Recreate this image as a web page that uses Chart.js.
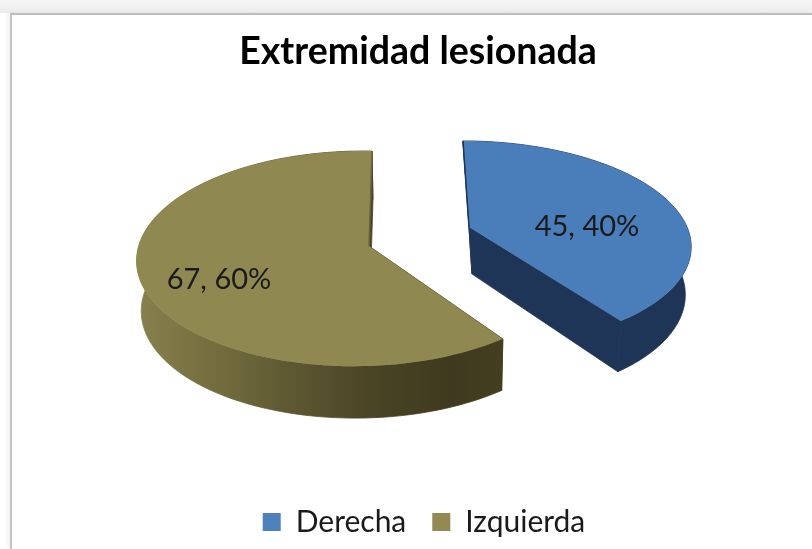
<!DOCTYPE html>
<html>
<head>
<meta charset="utf-8">
<title>Extremidad lesionada</title>
<script src="https://cdn.jsdelivr.net/npm/chart.js@4"></script>
<style>
  html, body { margin: 0; padding: 0; background: #fff; overflow: hidden; }
  body { width: 812px; height: 549px; position: relative; }
  .topband { position: absolute; left: 0; top: 0; width: 812px; height: 13px; background: linear-gradient(#f6f6f6, #ececec); }
  .frame { position: absolute; left: 10px; top: 13px; width: 802px; height: 536px; box-sizing: border-box;
           border-top: 2px solid #bdbdbd; border-left: 2px solid #c4c4c4; background: #fff;
           box-shadow: -3px 0 4px rgba(0,0,0,0.05); }
  canvas { position: absolute; left: 0; top: 0; }
</style>
</head>
<body>
<div class="topband"></div>
<div class="frame"></div>
<canvas id="pie" width="812" height="549"></canvas>
<script>
// ─── DATA ──────────────────────────────────────────────────────
const categories = ["Derecha", "Izquierda"];
const counts = [45, 67];
const topColors = ["#4a7ebb", "#8f8850"];
const chartTitle = "Extremidad lesionada";
const FONT = "Lato, 'Open Sans', sans-serif";

// ─── 3D VIEW OF EACH SLICE ─────────────────────────────────────
// each slice sits on its own exploded plane, seen with a bit of perspective
const views = [
  { cx: 469, cy: 227, rx: 218, ry: 100, k: 0.162, m: 0, skew: 7,
    dropX: 3, dropY: 47, shrink: 0.96, labelX: 118, labelY: 0 },
  { cx: 369, cy: 246, rx: 220, ry: 106, k: 0.117, m: -0.045, skew: -3.4,
    dropX: 1, dropY: 50, shrink: 0.984, labelX: -150, labelY: 34 },
];

function project(view, angle, radius, lower) {
  const u = Math.cos(angle) * radius;
  const v = Math.sin(angle) * radius;
  const w = 1 - view.k * v - view.m * u;
  let x = (view.rx * u + view.skew * v) / w;
  let y = (view.ry * v) / w;
  if (lower) {
    x = x * view.shrink + view.dropX;
    y = y * (2 - view.shrink) + view.dropY;
  }
  return { x: view.cx + x, y: view.cy + y };
}

function rimPoints(view, start, end, lower) {
  const pts = [];
  const steps = 120;
  for (let i = 0; i <= steps; i++) {
    pts.push(project(view, start + ((end - start) * i) / steps, 1, lower));
  }
  return pts;
}

function tracePath(ctx, pts) {
  ctx.beginPath();
  pts.forEach((p, i) => (i ? ctx.lineTo(p.x, p.y) : ctx.moveTo(p.x, p.y)));
  ctx.closePath();
}

function sideFill(ctx, index) {
  if (index === 0) return "#1f3557";
  const grad = ctx.createLinearGradient(140, 0, 505, 0);
  grad.addColorStop(0, "#85804c");
  grad.addColorStop(0.18, "#767040");
  grad.addColorStop(0.4, "#5f5933");
  grad.addColorStop(0.62, "#4b4526");
  grad.addColorStop(0.85, "#3f3a1f");
  grad.addColorStop(1, "#443f20");
  return grad;
}

// ─── PIE PLUGIN ────────────────────────────────────────────────
const pie3d = {
  id: "pie3d",
  afterLayout(chart) {
    // legend sits a little right of the title
    chart.legend.left += 6;
    chart.legend.right += 6;
  },
  beforeDatasetDraw(chart, args) {
    const { ctx } = chart;
    const arcs = chart.getDatasetMeta(args.index).data;
    const total = counts.reduce((a, b) => a + b, 0);

    arcs.forEach((arc, i) => {
      const view = views[i];
      const { startAngle, endAngle } = arc.getProps(["startAngle", "endAngle"]);
      const upper = rimPoints(view, startAngle, endAngle, false);
      const lower = rimPoints(view, startAngle, endAngle, true);
      const hub = project(view, 0, 0, false);
      const hubLow = project(view, 0, 0, true);

      ctx.save();
      const wall = sideFill(ctx, i);
      ctx.fillStyle = wall;
      ctx.strokeStyle = wall;
      ctx.lineWidth = 0.8;
      ctx.lineJoin = "round";

      // outer wall, then the two cut walls; stroked too so no seam shows
      [
        upper.concat(lower.slice().reverse()),
        [hub, upper[0], lower[0], hubLow],
        [hub, upper[upper.length - 1], lower[lower.length - 1], hubLow],
      ].forEach((pts) => {
        tracePath(ctx, pts);
        ctx.fill();
        ctx.stroke();
      });

      // top face
      tracePath(ctx, [hub].concat(upper));
      ctx.fillStyle = topColors[i];
      ctx.fill();

      // thin dark edge along the cut facing the gap
      ctx.beginPath();
      const first = i === 0 ? upper[0] : upper[upper.length - 1];
      ctx.moveTo(first.x, first.y);
      ctx.lineTo(hub.x, hub.y);
      ctx.strokeStyle = i === 0 ? "#1f3557" : "#6b6538";
      ctx.lineWidth = 1.5;
      ctx.stroke();

      // value, share label
      const pct = Math.round((counts[i] / total) * 100);
      ctx.fillStyle = "#1a1a1a";
      ctx.font = "29px " + FONT;
      ctx.textAlign = "center";
      ctx.textBaseline = "middle";
      ctx.fillText(counts[i] + ", " + pct + "%", hub.x + view.labelX, hub.y + view.labelY);
      ctx.restore();
    });
    return false;
  },
};

// ─── CHART ─────────────────────────────────────────────────────
new Chart(document.getElementById("pie"), {
  type: "pie",
  data: {
    labels: categories,
    datasets: [{ data: counts, backgroundColor: ["#4f81bd", "#938953"], borderWidth: 0 }],
  },
  options: {
    responsive: false,
    animation: false,
    layout: { padding: { left: 24, top: 29, bottom: 2 } },
    plugins: {
      tooltip: { enabled: false },
      title: {
        display: true,
        text: chartTitle,
        color: "#000",
        font: { family: FONT, size: 37.5, weight: "bold" },
        padding: { top: 0, bottom: 20 },
      },
      legend: {
        position: "bottom",
        labels: {
          boxWidth: 18,
          boxHeight: 18,
          padding: 26,
          color: "#1a1a1a",
          font: { family: FONT, size: 30 },
        },
      },
    },
  },
  plugins: [pie3d],
});
</script>
</body>
</html>
